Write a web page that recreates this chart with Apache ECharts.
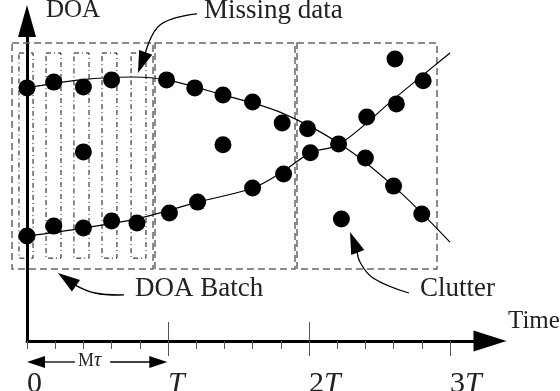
<!DOCTYPE html>
<html>
<head>
<meta charset="utf-8">
<script src="https://cdn.jsdelivr.net/npm/echarts@6/dist/echarts.min.js"></script>
<style>
html, body { margin: 0; padding: 0; background: #fff; }
#chart { width: 560px; height: 391px; }
</style>
</head>
<body>
<div id="chart"></div>
<script>
// time in units of T, DOA in arbitrary units (0 = time axis)
var upperTrack = [[0, 79.1], [0.19, 80.9], [0.4, 79.4], [0.6, 81.6], [0.99, 81.6], [1.19, 79.1], [1.39, 76.9],
  [1.6, 74.7], [1.81, 68.1], [1.99, 66.3], [2.21, 61.6], [2.4, 57.2], [2.6, 48.4], [2.8, 39.7]]
var lowerTrack = [[0, 32.8], [0.19, 35.9], [0.4, 35.3], [0.6, 37.5], [0.78, 36.9], [1.01, 40.0], [1.21, 43.4],
  [1.6, 47.8], [1.82, 52.2], [2.01, 58.8], [2.41, 70.0], [2.62, 74.1], [2.81, 81.3]]
var clutter = [[0.4, 59.1], [1.39, 61.3], [2.23, 38.1], [2.61, 88.1]]
var upperCurve = [[0, 79.1], [0.38, 81.6], [0.75, 82.5], [0.99, 81.6], [1.39, 76.9], [1.79, 71.6],
  [2.22, 61.6], [2.6, 48.4], [3.0, 30.9]]
var lowerCurve = [[0, 32.8], [0.4, 35.3], [0.8, 38.4], [1.21, 43.4], [1.6, 47.8], [1.82, 53.1],
  [2.01, 58.8], [2.22, 61.6], [2.62, 76.3], [3.0, 90.0]]

// batch windows [start, end, top, bottom]
var batches = [[-0.106, 0.894, 93.1, 22.5], [0.908, 1.901, 93.1, 22.5], [1.915, 2.908, 93.1, 22.5]]
var subBatches = [[-0.057, 0.043, 90.0, 25.9], [0.135, 0.241, 90.0, 25.9], [0.333, 0.44, 90.0, 25.9],
  [0.532, 0.638, 90.0, 25.9], [0.738, 0.844, 90.0, 25.9]]

// annotation arrows: curve points, last one is the tip
var noteArrows = [
  [[1.206, 102.2], [0.943, 98.75], [0.851, 91.25], [0.787, 83.75]],
  [[0.688, 14.4], [0.482, 15.0], [0.34, 17.5], [0.22, 21.25]],
  [[2.709, 15.0], [2.454, 19.7], [2.362, 24.7], [2.34, 28.4], [2.291, 34.1]]
]
var spanArrows = [
  [[0.34, -6.56], [0.12, -6.56], [0, -6.56]],
  [[0.59, -6.56], [0.86, -6.56], [0.995, -6.56]]
]

var minorTicks = [0, 0.2, 0.4, 0.6, 0.8, 1.2, 1.4, 1.6, 1.8, 2.2, 2.4, 2.6, 2.8]
var majorTicks = [1, 2]
var lowTicks = [1, 2, 3]
var tickLabels = [0, 1, 2, 3]

var serif = '"Liberation Serif", "DejaVu Serif", serif'
var chart = echarts.init(document.getElementById('chart'))

function boxRenderer (dash, color, width) {
  return function (params, api) {
    var p0 = api.coord([api.value(0), api.value(2)])
    var p1 = api.coord([api.value(1), api.value(3)])
    return {
      type: 'rect',
      shape: { x: p0[0], y: p0[1], width: p1[0] - p0[0], height: p1[1] - p0[1] },
      style: { fill: null, stroke: color, lineWidth: width, lineDash: dash }
    }
  }
}

function arrowRenderer (list, hl, hw) {
  return function (params, api) {
    var pts = list[params.dataIndex].map(function (d) { return api.coord(d) })
    var tip = pts[pts.length - 1]
    var base = pts[pts.length - 2]
    var dx = tip[0] - base[0]
    var dy = tip[1] - base[1]
    var len = Math.sqrt(dx * dx + dy * dy)
    var ux = dx / len
    var uy = dy / len
    var bx = tip[0] - ux * hl
    var by = tip[1] - uy * hl
    var line = pts.slice(0, -1)
    line[line.length - 1] = [bx + ux * 2, by + uy * 2]
    return {
      type: 'group',
      children: [
        { type: 'polyline', shape: { points: line, smooth: 0.4 }, style: { stroke: '#000', lineWidth: 1.3, fill: null } },
        { type: 'polygon', shape: { points: [tip, [bx - uy * hw, by + ux * hw], [bx + uy * hw, by - ux * hw]] }, style: { fill: '#000' } }
      ]
    }
  }
}

function idx (arr) { return arr.map(function (a, i) { return [i] }) }

var xBase = { type: 'value', min: 0, max: 3.284, gridIndex: 0, position: 'bottom', splitLine: { show: false } }
var dot = { type: 'scatter', symbolSize: 17, itemStyle: { color: '#000', opacity: 1 }, z: 3 }

var option = {
  animation: false,
  backgroundColor: '#fff',
  grid: { left: 27, right: 70, top: 21, bottom: 50, outerBoundsMode: 'none', containLabel: false },
  xAxis: [
    Object.assign({}, xBase, {
      axisLine: { show: true, symbol: ['none', 'triangle'], symbolSize: [21, 33], lineStyle: { color: '#000', width: 3 } },
      axisTick: { show: true, customValues: minorTicks, length: 8, lineStyle: { color: '#555', width: 1 } },
      axisLabel: {
        show: true,
        customValues: tickLabels,
        align: 'left',
        margin: 28,
        formatter: function (v) {
          if (v === 0) return '{n|0}'
          if (v === 1) return '{t|T}'
          return '{n|' + v + '}{t|T}'
        },
        rich: {
          n: { fontFamily: serif, fontSize: 30, color: '#222' },
          t: { fontFamily: serif, fontSize: 30, fontStyle: 'italic', color: '#222' }
        }
      }
    }),
    Object.assign({}, xBase, {
      axisLine: { show: false },
      axisTick: { show: true, inside: true, customValues: majorTicks, length: 19, lineStyle: { color: '#555', width: 1 } },
      axisLabel: { show: false }
    }),
    Object.assign({}, xBase, {
      axisLine: { show: false },
      axisTick: { show: true, customValues: lowTicks, length: 15, lineStyle: { color: '#555', width: 1 } },
      axisLabel: { show: false }
    })
  ],
  yAxis: {
    type: 'value',
    min: 0,
    max: 100,
    splitLine: { show: false },
    axisTick: { show: false },
    axisLabel: { show: false },
    axisLine: { show: true, symbol: ['none', 'triangle'], symbolSize: [18, 32], lineStyle: { color: '#000', width: 3 } }
  },
  graphic: [
    { type: 'text', x: 46, y: 10, style: { text: 'DOA', font: '25px ' + serif, fill: '#222', verticalAlign: 'middle' } },
    { type: 'text', x: 204, y: 11, style: { text: 'Missing data', font: '27px ' + serif, fill: '#222', verticalAlign: 'middle' } },
    { type: 'text', x: 135, y: 289, style: { text: 'DOA Batch', font: '27px ' + serif, fill: '#222', verticalAlign: 'middle' } },
    { type: 'text', x: 420, y: 289, style: { text: 'Clutter', font: '27px ' + serif, fill: '#222', verticalAlign: 'middle' } },
    { type: 'text', x: 508, y: 321, style: { text: 'Time', font: '25px ' + serif, fill: '#222', verticalAlign: 'middle' } },
    {
      type: 'text', x: 78, y: 361,
      style: {
        text: '{m|M}{t|τ}', verticalAlign: 'middle', fill: '#222',
        rich: { m: { fontFamily: serif, fontSize: 18 }, t: { fontFamily: serif, fontSize: 20, fontStyle: 'italic' } }
      }
    }
  ],
  series: [
    { type: 'custom', renderItem: boxRenderer([7, 4], '#666', 1.5), data: batches, silent: true, z: 1 },
    { type: 'custom', renderItem: boxRenderer([5, 3, 1, 3], '#111', 1), data: subBatches, silent: true, z: 1 },
    { type: 'line', data: upperCurve, smooth: 0.35, symbol: 'none', lineStyle: { color: '#000', width: 1.2 }, z: 2 },
    { type: 'line', data: lowerCurve, smooth: 0.35, symbol: 'none', lineStyle: { color: '#000', width: 1.2 }, z: 2 },
    Object.assign({ data: upperTrack }, dot),
    Object.assign({ data: lowerTrack }, dot),
    Object.assign({ data: clutter }, dot),
    { type: 'custom', renderItem: arrowRenderer(noteArrows, 22, 7), data: idx(noteArrows), silent: true, z: 4 },
    { type: 'custom', renderItem: arrowRenderer(spanArrows, 18, 6), data: idx(spanArrows), silent: true, z: 4 }
  ]
}
chart.setOption(option)
</script>
</body>
</html>
